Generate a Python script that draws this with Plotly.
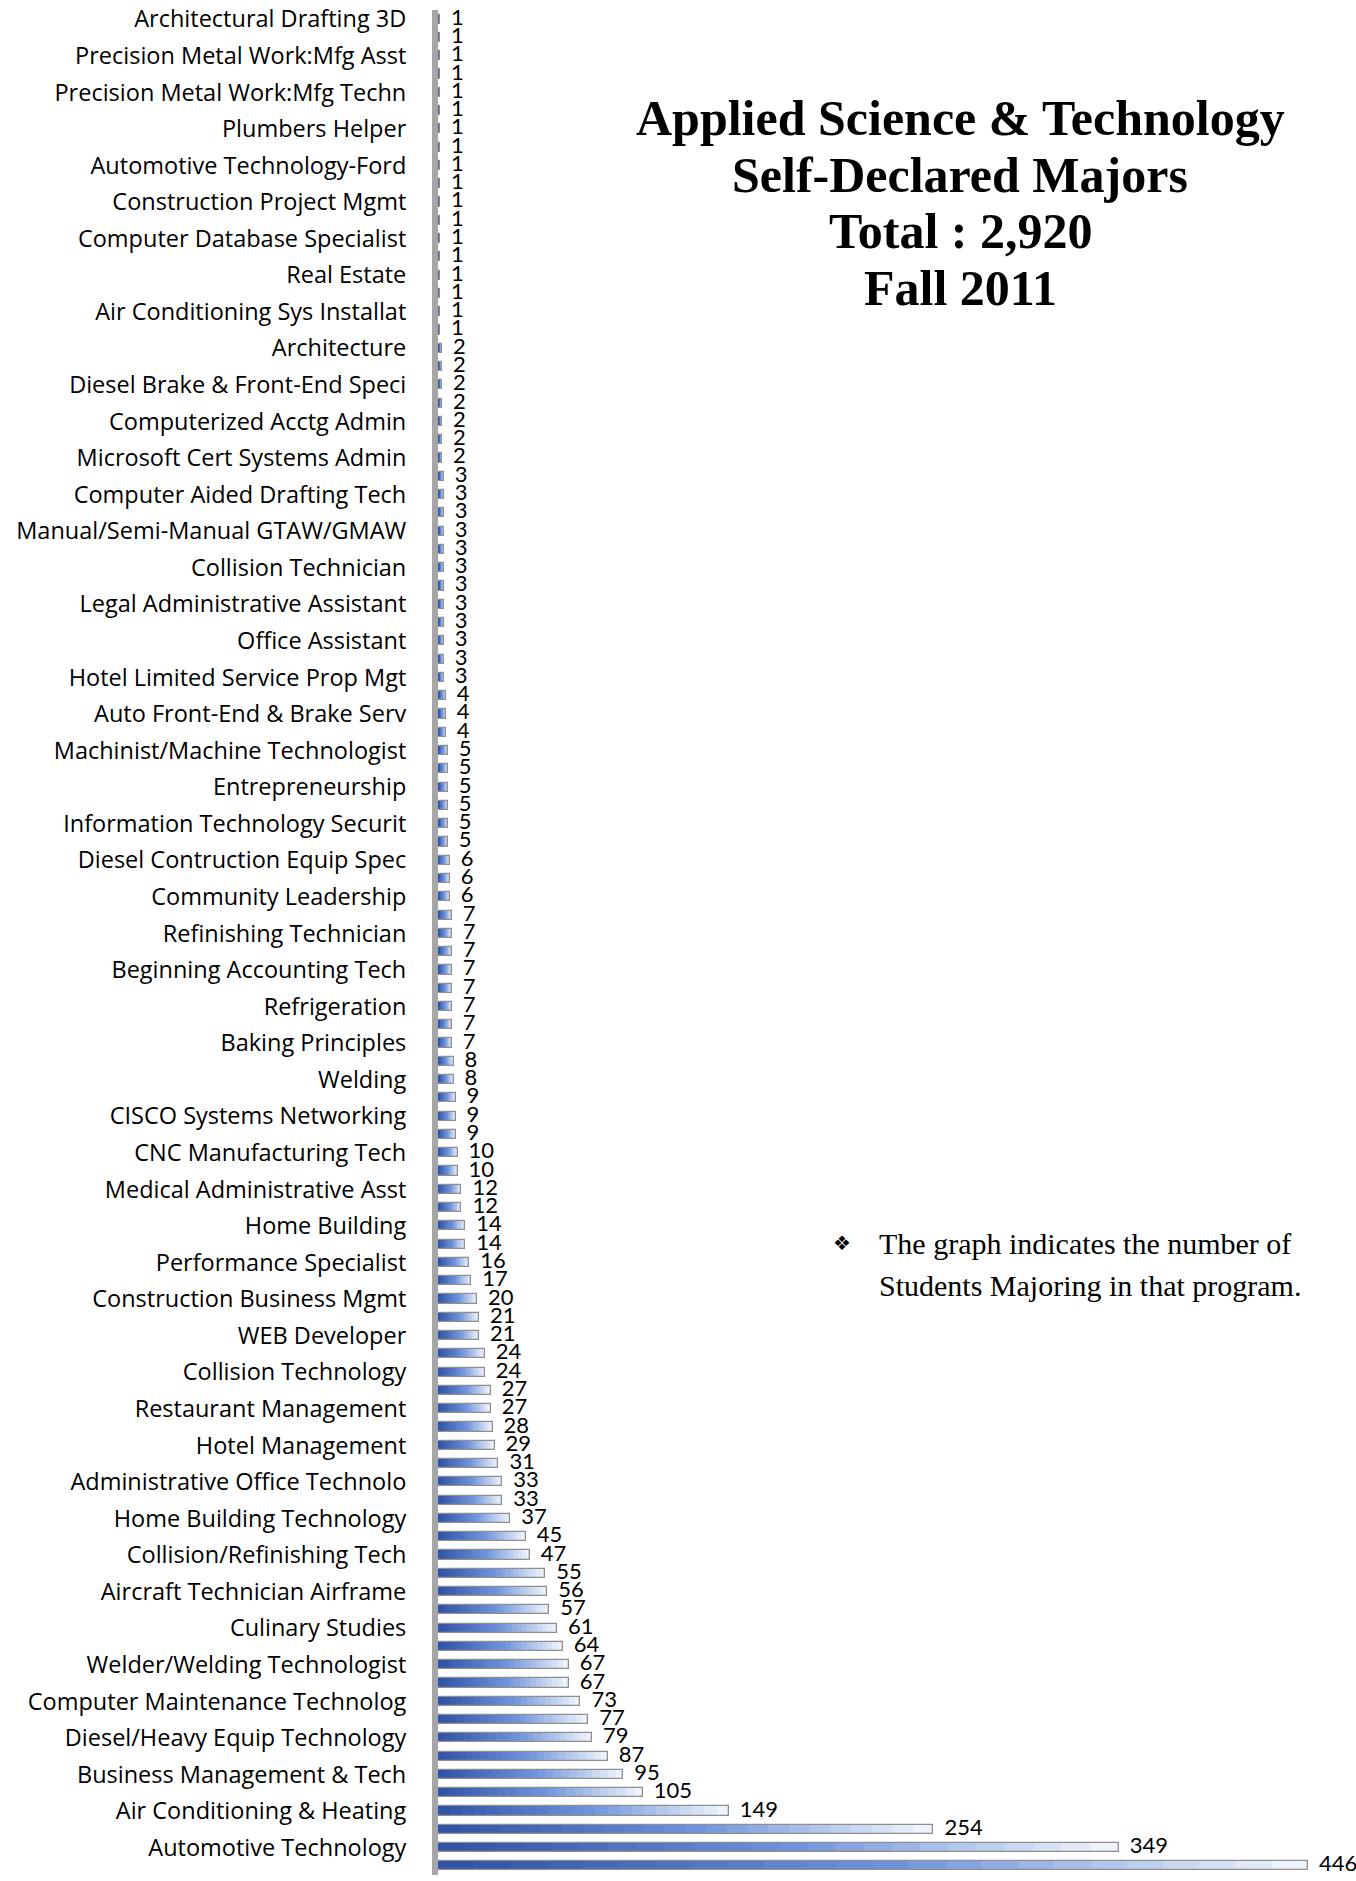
import plotly.graph_objects as go

# ---------------- data (top to bottom, as drawn) ----------------
values = [
    1, 1, 1, 1, 1, 1, 1, 1, 1, 1, 1, 1, 1, 1, 1, 1, 1, 1,
    2, 2, 2, 2, 2, 2, 2,
    3, 3, 3, 3, 3, 3, 3, 3, 3, 3, 3, 3,
    4, 4, 4,
    5, 5, 5, 5, 5, 5,
    6, 6, 6,
    7, 7, 7, 7, 7, 7, 7, 7,
    8, 8,
    9, 9, 9,
    10, 10, 12, 12, 14, 14, 16, 17, 20, 21, 21, 24, 24, 27, 27,
    28, 29, 31, 33, 33, 37, 45, 47, 55, 56, 57, 61, 64, 67, 67,
    73, 77, 79, 87, 95, 105, 149, 254, 349, 446,
]

# only every second category carries a visible label (as in the original)
shown_labels = [
    "Architectural Drafting 3D",
    "Precision Metal Work:Mfg Asst",
    "Precision Metal Work:Mfg Techn",
    "Plumbers Helper",
    "Automotive Technology-Ford",
    "Construction Project Mgmt",
    "Computer Database Specialist",
    "Real Estate",
    "Air Conditioning Sys Installat",
    "Architecture",
    "Diesel Brake & Front-End Speci",
    "Computerized Acctg Admin",
    "Microsoft Cert Systems Admin",
    "Computer Aided Drafting Tech",
    "Manual/Semi-Manual GTAW/GMAW",
    "Collision Technician",
    "Legal Administrative Assistant",
    "Office Assistant",
    "Hotel Limited Service Prop Mgt",
    "Auto Front-End & Brake Serv",
    "Machinist/Machine Technologist",
    "Entrepreneurship",
    "Information Technology Securit",
    "Diesel Contruction Equip Spec",
    "Community Leadership",
    "Refinishing Technician",
    "Beginning Accounting Tech",
    "Refrigeration",
    "Baking Principles",
    "Welding",
    "CISCO Systems Networking",
    "CNC Manufacturing Tech",
    "Medical Administrative Asst",
    "Home Building",
    "Performance Specialist",
    "Construction Business Mgmt",
    "WEB Developer",
    "Collision Technology",
    "Restaurant Management",
    "Hotel Management",
    "Administrative Office Technolo",
    "Home Building Technology",
    "Collision/Refinishing Tech",
    "Aircraft Technician Airframe",
    "Culinary Studies",
    "Welder/Welding Technologist",
    "Computer Maintenance Technolog",
    "Diesel/Heavy Equip Technology",
    "Business Management & Tech",
    "Air Conditioning & Heating",
    "Automotive Technology",
]

title_lines = [
    "Applied Science & Technology",
    "Self-Declared Majors",
    "Total : 2,920",
    "Fall 2011",
]
note_lines = [
    "The graph indicates the number of",
    "Students Majoring in that program.",
]

# ---------------- layout geometry ----------------
W, H = 1356, 1881
ML, MR, MT, MB = 438, 0, 10, 6
PW, PH = W - ML - MR, H - MT - MB
XMAX = 470.6


def px(xpx, ypx):
    return (xpx - ML) / PW, 1 - (ypx - MT) / PH


positions = list(range(len(values)))
tick_positions = positions[::2]

fig = go.Figure()

# simulated left-to-right gradient (dark blue -> pale)
dark = (0x2c, 0x4f, 0xa2)
mid = (0x6f, 0x93, 0xdc)
light = (0xee, 0xf3, 0xfb)
N = 24


def mix(a, b, t):
    return "#%02x%02x%02x" % tuple(int(round(a[k] + (b[k] - a[k]) * t)) for k in range(3))


layers = []
for i in range(N):
    frac = 1.0 - i / N  # outer (long, light) first
    pos = frac
    if pos > 0.55:
        col = mix(mid, light, (pos - 0.55) / 0.45)
    else:
        col = mix(dark, mid, pos / 0.55)
    layers.append((frac, col))

for frac, col in layers:
    fig.add_trace(go.Bar(
        x=[v * frac for v in values], y=positions, orientation="h",
        width=0.5, marker=dict(color=col, line=dict(width=0)),
        hoverinfo="skip", showlegend=False,
    ))
# outline
fig.add_trace(go.Bar(
    x=values, y=positions, orientation="h", width=0.5,
    marker=dict(color="rgba(0,0,0,0)", line=dict(color="#8f8f8f", width=1.3)),
    showlegend=False, hoverinfo="skip",
))
# value labels
fig.add_trace(go.Scatter(
    x=values, y=positions, mode="text",
    text=[f"\u2002{v}" for v in values], textposition="middle right",
    textfont=dict(family="Lato", size=22, color="#000000"),
    cliponaxis=False, showlegend=False, hoverinfo="skip",
))

annotations = []
for i, line in enumerate(title_lines):
    ax, ay = px(960, 118 + i * 56.5)
    annotations.append(dict(
        text=line, x=ax, y=ay, xref="paper", yref="paper",
        xanchor="center", yanchor="middle", showarrow=False,
        font=dict(family="Liberation Serif", size=50, color="#000000", weight="bold"),
    ))
bx, by = px(842, 1243)
annotations.append(dict(
    text="\u2756", x=bx, y=by, xref="paper", yref="paper",
    xanchor="center", yanchor="middle", showarrow=False,
    font=dict(family="DejaVu Sans", size=20, color="#000000"),
))
for i, line in enumerate(note_lines):
    ax, ay = px(877, 1243 + i * 42)
    annotations.append(dict(
        text=line, x=ax, y=ay, xref="paper", yref="paper",
        xanchor="left", yanchor="middle", showarrow=False,
        font=dict(family="Liberation Serif", size=30, color="#000000"),
    ))

fig.update_layout(
    width=W, height=H,
    margin=dict(l=ML, r=MR, t=MT, b=MB, pad=0),
    barmode="overlay", bargap=0,
    plot_bgcolor="#ffffff", paper_bgcolor="#ffffff",
    showlegend=False,
    annotations=annotations,
    xaxis=dict(range=[0, XMAX], visible=False, fixedrange=True),
    yaxis=dict(
        range=[len(values) - 0.5, -0.5],
        tickmode="array", tickvals=tick_positions, ticktext=shown_labels,
        ticks="outside", ticklen=21, tickcolor="rgba(0,0,0,0)",
        tickfont=dict(family="Open Sans", size=23.5, color="#000000"),
        showline=True, linecolor="#a6a6a6", linewidth=6,
        showgrid=False, zeroline=False, fixedrange=True,
    ),
)

fig.write_html("out.html", config={"displayModeBar": False},
               post_script="document.body.style.margin='0';")
